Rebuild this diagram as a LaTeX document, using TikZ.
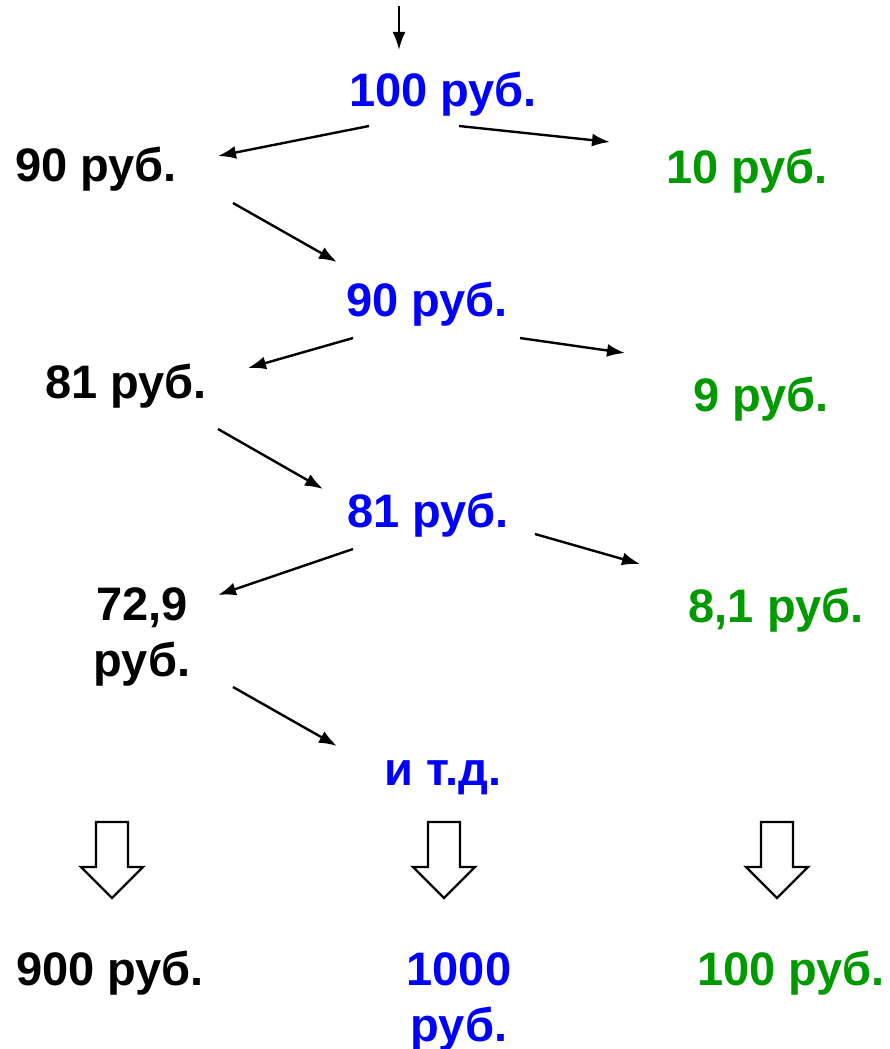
\documentclass[tikz,border=0pt]{standalone}
\usepackage{fontspec}
\setmainfont{Liberation Sans}
\usetikzlibrary{arrows.meta,calc}
\definecolor{sumblue}{RGB}{0,0,255}
\definecolor{sumgreen}{RGB}{0,153,0}
\tikzset{
	money/.style={anchor=base,inner sep=0pt,align=center,
			font=\fontsize{47}{56}\selectfont\bfseries},
	arr/.style={-{Latex[length=18pt,width=13pt]},line width=2.4pt},
	hollow/.style={draw,line width=2.4pt,fill=white,line join=miter}
}
\begin{document}
\begin{tikzpicture}[x=1pt,y=-1pt]
	\useasboundingbox (0,0) rectangle (889,1049);

	% middle column: what is passed on
	\node[money,sumblue] (top100) at (443,106) {100 руб.};
	\node[money,sumblue] (top90) at (427,316) {90 руб.};
	\node[money,sumblue] (top81) at (428,527) {81 руб.};
	\node[money,sumblue] (etc) at (443,785) {и т.д.};

	% left column: what is kept
	\node[money] (keep90) at (96,181) {90 руб.};
	\node[money] (keep81) at (126,398) {81 руб.};
	\node[money] (keep729) at (142,676) {72,9\\руб.};

	% right column: what is set aside
	\node[money,sumgreen] (give10) at (747,183) {10 руб.};
	\node[money,sumgreen] (give9) at (761,411) {9 руб.};
	\node[money,sumgreen] (give81) at (776,622) {8,1 руб.};

	% totals
	\node[money] (sumKeep) at (110,985) {900 руб.};
	\node[money,sumblue] (sumTop) at (459,1041) {1000\\руб.};
	\node[money,sumgreen] (sumGive) at (791,985) {100 руб.};

	% incoming arrow
	\coordinate (in) at (399,6);
	\draw[arr] (in) -- ($(top100.base)+(-44,-56)$);

	% splitting arrows
	\draw[arr] ($(top100.base)+(-74,20)$) -- ($(keep90.base)+(122,-25)$);
	\draw[arr] ($(top100.base)+(16,20)$) -- ($(give10.base)+(-137,-41)$);
	\draw[arr] ($(keep90.base)+(137,22)$) -- ($(top90.base)+(-90,-54)$);
	\draw[arr] ($(top90.base)+(-74,22)$) -- ($(keep81.base)+(122,-30)$);
	\draw[arr] ($(top90.base)+(93,22)$) -- ($(give9.base)+(-136,-58)$);
	\draw[arr] ($(keep81.base)+(92,31)$) -- ($(top81.base)+(-105,-38)$);
	\draw[arr] ($(top81.base)+(-75,22)$) -- ($(keep729.base)+(76,-81)$);
	\draw[arr] ($(top81.base)+(107,7)$) -- ($(give81.base)+(-136,-58)$);
	\draw[arr] ($(keep729.base)+(91,11)$) -- ($(etc.base)+(-106,-39)$);

	% hollow arrows down to the totals
	\foreach \c in {112,444,777}
		\draw[hollow] (\c-16,822) -- (\c+16,822) -- (\c+16,867) -- (\c+31,867)
			-- (\c,898) -- (\c-31,867) -- (\c-16,867) -- cycle;
\end{tikzpicture}
\end{document}
